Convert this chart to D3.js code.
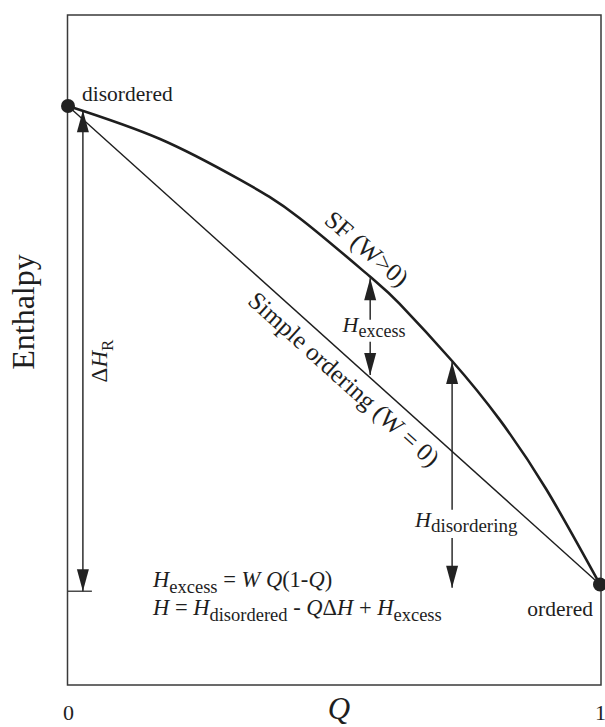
<!DOCTYPE html>
<html><head><meta charset="utf-8">
<script src="https://cdn.jsdelivr.net/npm/d3@7"></script>
<style>
html,body{margin:0;padding:0;background:#fff;}
svg{display:block;}
text{font-family:"Liberation Serif","Times New Roman",serif;fill:#1e1e1e;}
</style></head><body>
<svg id="chart" width="605" height="727"></svg>
<script>
// ---- data ----
const orderParam   = [0, 0.173, 0.323, 0.435, 0.567, 0.623, 0.722, 0.811, 0.899, 1];
const enthalpySF   = [1, 0.931, 0.846, 0.766, 0.644, 0.587, 0.467, 0.345, 0.199, 0];
const simpleQ      = [0, 1];
const simpleH      = [1, 0];
const endStates    = ["disordered", "ordered"];
const endQ         = [0, 1];
const endH         = [1, 0];
const xTickValues  = [0, 1];
const xTickLabels  = ["0", "1"];
// arrows: Q position, tail/tip enthalpy values, label gap
const dHR_Q        = 0.028;
const dHR_H        = [0.991, -0.014];
const excessQ      = 0.568;
const excessH      = [0.640, 0.438];
const excessGap    = [0.553, 0.507];
const disordQ      = 0.722;
const disordH      = [0.465, -0.007];
const disordGap    = [0.156, 0.097];

// ---- layout ----
const svg = d3.select("#chart");
const X0 = 68, X1 = 600, Y0 = 685, Y1 = 15;
const x = d3.scaleLinear().domain([0, 1]).range([X0, X1]);
const y = d3.scaleLinear().domain([-0.21, 1.19]).range([Y0, Y1]);
const ink = "#1e1e1e";

// frame
svg.append("rect").attr("x", X0 - 0.5).attr("y", Y1).attr("width", X1 - X0 + 1.5).attr("height", Y0 - Y1)
  .attr("fill", "none").attr("stroke", "#3a3a3a").attr("stroke-width", 1.5);

// x axis tick labels
const xAxis = d3.axisBottom(x).tickValues(xTickValues).tickSize(0)
  .tickFormat((d, i) => xTickLabels[i]);
const gx = svg.append("g").attr("transform", `translate(0,${Y0})`).call(xAxis);
gx.select(".domain").remove();
gx.selectAll("text").attr("y", 35).attr("dy", 0)
  .style("font-family", '"Liberation Serif",serif').style("font-size", "22px").attr("fill", ink);

// axis titles
svg.append("text").attr("x", 339).attr("y", 719).attr("text-anchor", "middle")
  .style("font-size", "31px").style("font-style", "italic").text("Q");
svg.append("text").attr("transform", "translate(34,312) rotate(-90)").attr("text-anchor", "middle")
  .style("font-size", "32px").text("Enthalpy");

// lines
const line = d3.line().x(d => x(d[0])).y(d => y(d[1]));
svg.append("path").datum(simpleQ.map((q, i) => [q, simpleH[i]]))
  .attr("d", line).attr("fill", "none").attr("stroke", ink).attr("stroke-width", 1.4);
const curveData = orderParam.map((q, i) => [q, enthalpySF[i]]);
svg.append("path").datum(curveData)
  .attr("d", line.curve(d3.curveNatural)).attr("fill", "none")
  .attr("stroke", ink).attr("stroke-width", 2.6);

// end points
svg.selectAll("circle.end").data(endQ).enter().append("circle")
  .attr("cx", d => x(d)).attr("cy", (d, i) => y(endH[i])).attr("r", 7).attr("fill", "#222");
svg.append("text").attr("x", x(endQ[0]) + 14).attr("y", y(endH[0]) - 5)
  .style("font-size", "21.5px").text(endStates[0]);
svg.append("text").attr("x", x(endQ[1]) - 7).attr("y", y(endH[1]) + 31).attr("text-anchor", "end")
  .style("font-size", "21.5px").text(endStates[1]);

// arrows
function shaft(q, h1, h2) {
  svg.append("line").attr("x1", x(q)).attr("x2", x(q)).attr("y1", y(h1)).attr("y2", y(h2))
    .attr("stroke", ink).attr("stroke-width", 1.4);
}
function head(q, hTip, up) {
  const px = x(q), py = y(hTip), L = 22, W = 6, s = up ? 1 : -1;
  svg.append("path").attr("d", `M${px},${py} L${px - W},${py + s * L} L${px + W},${py + s * L} Z`)
    .attr("fill", "#222");
}
// delta H_R
shaft(dHR_Q, dHR_H[0], dHR_H[1]);
head(dHR_Q, dHR_H[0], true);
head(dHR_Q, dHR_H[1], false);
svg.append("line").attr("x1", X0).attr("x2", x(dHR_Q) + 9).attr("y1", y(dHR_H[1])).attr("y2", y(dHR_H[1]))
  .attr("stroke", ink).attr("stroke-width", 1.2);
// H excess
shaft(excessQ, excessH[0], excessGap[0]);
shaft(excessQ, excessGap[1], excessH[1]);
head(excessQ, excessH[0], true);
head(excessQ, excessH[1], false);
// H disordering
shaft(disordQ, disordH[0], disordGap[0]);
shaft(disordQ, disordGap[1], disordH[1]);
head(disordQ, disordH[0], true);
head(disordQ, disordH[1], false);

// helper for rich text
function rich(sel, parts) {
  parts.forEach(p => {
    const t = sel.append("tspan").text(p.t);
    if (p.i) t.style("font-style", "italic");
    if (p.s) t.style("font-size", p.s + "px");
    if (p.dy) t.attr("dy", p.dy);
  });
  return sel;
}

// labels on arrows
rich(svg.append("text").attr("x", 374).attr("y", 332).attr("text-anchor", "middle").style("font-size", "22px"),
  [{t: "H", i: true}, {t: "excess", s: 18, dy: 5}]);
rich(svg.append("text").attr("x", 415).attr("y", 527).style("font-size", "22px"),
  [{t: "H", i: true}, {t: "disordering", s: 19, dy: 5}]);
rich(svg.append("text").attr("transform", "translate(107,361) rotate(-90)").attr("text-anchor", "middle").style("font-size", "23px"),
  [{t: "Δ"}, {t: "H", i: true}, {t: "R", s: 17, dy: 6}]);

// rotated line labels
function pixAngle(q0, h0, q1, h1) {
  return Math.atan2(y(h1) - y(h0), x(q1) - x(q0)) * 180 / Math.PI;
}
const sfQ = 0.538;
const sfInterpH = d3.scaleLinear().domain(orderParam).range(enthalpySF);
const sfAng = pixAngle(sfQ - 0.04, sfInterpH(sfQ - 0.04), sfQ + 0.06, sfInterpH(sfQ + 0.06));
svg.append("text").attr("transform", `translate(${x(sfQ)},${y(sfInterpH(sfQ))}) rotate(${sfAng})`)
  .attr("y", -11).attr("text-anchor", "middle").style("font-size", "25px").text("SF (W>0)");
const soQ = 0.542;
const soH = simpleH[0] + (simpleH[1] - simpleH[0]) * soQ;
const soAng = pixAngle(simpleQ[0], simpleH[0], simpleQ[1], simpleH[1]);
svg.append("text").attr("transform", `translate(${x(soQ)},${y(soH)}) rotate(${soAng})`)
  .attr("y", 27).attr("text-anchor", "middle").style("font-size", "25px").text("Simple ordering (W = 0)");

// formulas
rich(svg.append("text").attr("x", 153).attr("y", 587).style("font-size", "22.5px"),
  [{t: "H", i: true}, {t: "excess", s: 18.5, dy: 6}, {t: " = ", s: 22.5, dy: -6}, {t: "W", i: true}, {t: " "},
   {t: "Q", i: true}, {t: "(1-"}, {t: "Q", i: true}, {t: ")"}]);
rich(svg.append("text").attr("x", 153).attr("y", 615).style("font-size", "22.5px"),
  [{t: "H", i: true}, {t: " = "}, {t: "H", i: true}, {t: "disordered", s: 18.5, dy: 6}, {t: "  -  ", s: 22.5, dy: -6},
   {t: "Q", i: true}, {t: "Δ"}, {t: "H", i: true}, {t: " + "}, {t: "H", i: true}, {t: "excess", s: 18.5, dy: 6}]);
</script>
</body></html>
